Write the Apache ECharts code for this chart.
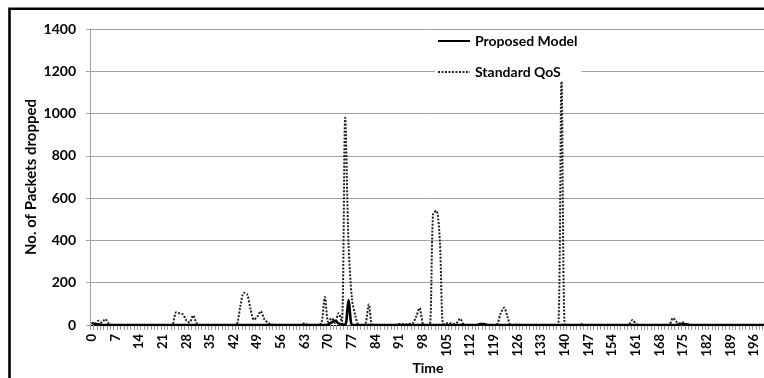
<!DOCTYPE html>
<html>
<head>
<meta charset="utf-8">
<script src="https://cdn.jsdelivr.net/npm/echarts@6/dist/echarts.min.js"></script>
<style>html,body{margin:0;padding:0;background:#fff;}#c{width:764px;height:378px;}</style>
</head>
<body>
<div id="c"></div>
<script>
// Time categories 0..199
const times = [];
for (let i = 0; i < 200; i++) times.push(String(i));

const seriesNames = ['Proposed Model', 'Standard QoS'];
const yTicks = [0, 200, 400, 600, 800, 1000, 1200, 1400];

// Standard QoS values (index = time)
const standardQoS = [
  10, 5, 20, 12, 28, 8, 0, 0, 0, 0,          // 0-9
  0, 0, 0, 0, 0, 0, 0, 0, 0, 0,              // 10-19
  0, 0, 0, 0, 5, 60, 55, 50, 22, 12,         // 20-29
  45, 10, 0, 0, 0, 0, 0, 0, 0, 0,            // 30-39
  0, 0, 0, 5, 90, 152, 145, 75, 25, 40,      // 40-49
  65, 30, 12, 3, 0, 0, 0, 0, 0, 0,           // 50-59
  0, 0, 0, 8, 0, 0, 0, 0, 10, 132,           // 60-69
  15, 32, 10, 55, 15, 980, 380, 123, 45, 0,  // 70-79
  0, 5, 97, 0, 0, 0, 0, 0, 0, 0,             // 80-89
  0, 5, 5, 3, 5, 8, 40, 80, 5, 0,            // 90-99
  0, 525, 540, 400, 5, 8, 8, 5, 10, 30,      // 100-109
  5, 0, 0, 0, 0, 0, 0, 0, 0, 0,              // 110-119
  5, 55, 82, 40, 0, 0, 3, 0, 0, 0,           // 120-129
  0, 0, 0, 0, 0, 0, 0, 0, 0, 1160,           // 130-139
  0, 0, 0, 0, 0, 3, 0, 0, 0, 0,              // 140-149
  0, 0, 0, 0, 0, 0, 0, 0, 0, 3,              // 150-159
  24, 5, 0, 0, 0, 0, 0, 0, 0, 0,             // 160-169
  0, 3, 33, 15, 8, 12, 3, 0, 0, 0,           // 170-179
  0, 0, 0, 0, 0, 0, 0, 0, 0, 0,              // 180-189
  0, 0, 0, 0, 0, 0, 0, 0, 0, 0               // 190-199
];

// Proposed Model values (index = time)
const proposedModel = [
  10, 5, 3, 0, 0, 0, 0, 0, 0, 0,
  0, 0, 0, 0, 0, 0, 0, 0, 0, 0,
  0, 0, 0, 0, 0, 0, 0, 0, 0, 0,
  0, 0, 0, 0, 0, 0, 0, 0, 0, 0,
  0, 0, 0, 0, 0, 0, 0, 0, 0, 0,
  0, 0, 0, 0, 0, 0, 0, 0, 0, 0,
  0, 0, 0, 0, 0, 0, 0, 0, 0, 0,
  3, 12, 20, 8, 3, 0, 118, 0, 0, 0,
  0, 0, 0, 0, 0, 0, 0, 0, 0, 0,
  0, 0, 0, 0, 0, 0, 0, 0, 0, 0,
  0, 0, 0, 0, 0, 0, 0, 0, 0, 0,
  0, 0, 0, 0, 0, 5, 5, 0, 0, 0,
  0, 0, 0, 0, 0, 0, 0, 0, 0, 0,
  0, 0, 0, 0, 0, 0, 0, 0, 0, 0,
  0, 0, 0, 0, 0, 0, 0, 0, 0, 0,
  0, 0, 0, 0, 0, 0, 0, 0, 0, 0,
  0, 0, 0, 0, 0, 0, 0, 0, 0, 0,
  0, 0, 0, 0, 5, 5, 3, 0, 0, 0,
  0, 0, 0, 0, 0, 0, 0, 0, 0, 0,
  0, 0, 0, 0, 0, 0, 0, 0, 0, 0
];

const FONT = 'Lato, "Open Sans", sans-serif';
const chart = echarts.init(document.getElementById('c'), null, {renderer: 'canvas'});
chart.setOption({
  animation: false,
  backgroundColor: '#fff',
  graphic: [{
    type: 'rect', silent: true, z: 100,
    shape: {x: 9.5, y: 8.7, width: 800, height: 400},
    style: {fill: 'none', stroke: '#000', lineWidth: 2.6}
  }],
  legend: {
    data: seriesNames,
    orient: 'vertical',
    left: 435, top: 32,
    itemWidth: 32, itemHeight: 14, itemGap: 17,
    padding: [2, 4, 2, 2],
    backgroundColor: '#fff',
    itemStyle: {opacity: 0},
    textStyle: {fontFamily: FONT, fontWeight: 'bold', fontSize: 14, color: '#000'}
  },
  grid: {left: 90, top: 29, width: 676, height: 296, containLabel: false, outerBoundsMode: 'none'},
  xAxis: {
    type: 'category',
    data: times,
    boundaryGap: true,
    name: 'Time',
    nameLocation: 'middle',
    nameGap: 36,
    nameMoveOverlap: false,
    nameTextStyle: {fontFamily: FONT, fontWeight: 'bold', fontSize: 14, color: '#000'},
    axisLine: {lineStyle: {color: '#000', width: 1}},
    axisTick: {show: true, interval: 0, length: 5, lineStyle: {color: '#999'}},
    axisLabel: {interval: 6, rotate: 90, margin: 9, fontFamily: FONT, fontWeight: 'bold', fontSize: 13, color: '#000'},
    splitLine: {show: false}
  },
  yAxis: {
    type: 'value',
    min: 0, max: 1400, interval: 200,
    name: 'No. of Packets dropped',
    nameLocation: 'middle',
    nameGap: 51,
    nameMoveOverlap: false,
    nameTextStyle: {fontFamily: FONT, fontWeight: 'bold', fontSize: 15, color: '#000'},
    axisLine: {show: true, lineStyle: {color: '#a0a0a0'}},
    axisTick: {show: true, length: 4, lineStyle: {color: '#a0a0a0'}},
    axisLabel: {margin: 14, fontFamily: FONT, fontWeight: 'bold', fontSize: 14, color: '#000',
      formatter: v => yTicks.indexOf(v) >= 0 ? String(v) : ''},
    splitLine: {lineStyle: {color: '#a0a0a0', width: 1}}
  },
  series: [
    {
      name: 'Standard QoS', type: 'line', data: standardQoS,
      smooth: 0.3, symbol: 'none', showSymbol: false, z: 2,
      lineStyle: {color: '#222', width: 2, type: [2, 1.5]},
      itemStyle: {color: '#222'}
    },
    {
      name: 'Proposed Model', type: 'line', data: proposedModel,
      smooth: 0.3, symbol: 'none', showSymbol: false, z: 3,
      lineStyle: {color: '#000', width: 2.6},
      itemStyle: {color: '#000'}
    }
  ]
});
</script>
</body>
</html>
